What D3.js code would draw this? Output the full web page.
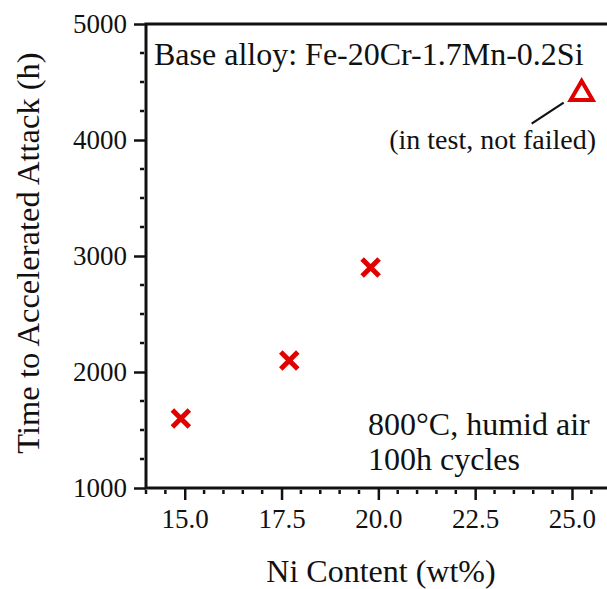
<!DOCTYPE html>
<html>
<head>
<meta charset="utf-8">
<script src="https://cdn.jsdelivr.net/npm/d3@7"></script>
<style>
  html, body { margin: 0; padding: 0; background: #fff; }
  svg { display: block; }
  text { font-family: "Liberation Serif", "Times New Roman", serif; fill: #111; }
</style>
</head>
<body>
<div id="chart"></div>
<script>
// Failed alloys: Ni content (wt%) vs. time to accelerated attack (h)
const niContent = [14.9, 17.7, 19.8];
const attackHours = [1600, 2100, 2900];
// Alloy still under test (not yet failed)
const inTestNi = [25.25];
const inTestHours = [4400];

const xMajorTicks = [15.0, 17.5, 20.0, 22.5, 25.0];
const yMajorTicks = [1000, 2000, 3000, 4000, 5000];

const W = 607, H = 589;
const serif = '"Liberation Serif", "Times New Roman", serif';
const svg = d3.select("#chart").append("svg").attr("width", W).attr("height", H);

const x = d3.scaleLinear().domain([14, 26]).range([146, 610.7]);
const y = d3.scaleLinear().domain([1000, 5000]).range([488, 24]);

const axisColor = "#111";
const red = "#e00000";

// Minor ticks every 0.5 wt% and every 250 h
const xMinor = d3.range(14, 26.01, 0.5).filter(v => !xMajorTicks.some(m => Math.abs(m - v) < 1e-6));
const yMinor = d3.range(1000, 5001, 250).filter(v => v % 1000 !== 0);

const gx = svg.append("g").attr("transform", `translate(0,${y(1000)})`);
gx.call(d3.axisBottom(x).tickValues(xMajorTicks).tickFormat(d3.format(".1f")).tickSize(12).tickPadding(9))
  .call(g => g.select(".domain").remove());
gx.selectAll(".tick line").attr("stroke", axisColor).attr("stroke-width", 2.5);
gx.selectAll(".tick text").attr("font-size", 27).attr("fill", "#111").style("font-family", serif);
gx.selectAll("line.minor").data(xMinor).enter().append("line")
  .attr("class", "minor")
  .attr("x1", d => x(d)).attr("x2", d => x(d))
  .attr("y1", 2).attr("y2", 6)
  .attr("stroke", axisColor).attr("stroke-width", 2.5);

const gy = svg.append("g").attr("transform", `translate(${x(14)},0)`);
gy.call(d3.axisLeft(y).tickValues(yMajorTicks).tickFormat(d3.format("d")).tickSize(12).tickPadding(7))
  .call(g => g.select(".domain").remove());
gy.selectAll(".tick line").attr("stroke", axisColor).attr("stroke-width", 2.5);
gy.selectAll(".tick text").attr("font-size", 27).attr("fill", "#111").style("font-family", serif);
gy.selectAll("line.minor").data(yMinor).enter().append("line")
  .attr("class", "minor")
  .attr("x1", -2).attr("x2", -6)
  .attr("y1", d => y(d)).attr("y2", d => y(d))
  .attr("stroke", axisColor).attr("stroke-width", 2.5);

// Frame: top, left and bottom edges
svg.append("path")
  .attr("d", `M${W},${y(5000)} H${x(14)} V${y(1000)} H${W}`)
  .attr("fill", "none").attr("stroke", axisColor).attr("stroke-width", 3);

// Failed-alloy markers (crosses)
const cross = d3.symbol().type(d3.symbolX).size(190);
svg.append("g").selectAll("path").data(niContent).enter().append("path")
  .attr("d", cross)
  .attr("transform", (d, i) => `translate(${x(d)},${y(attackHours[i])})`)
  .attr("fill", "none").attr("stroke", red).attr("stroke-width", 5);

// In-test marker (open triangle) with leader line
const tri = d3.symbol().type(d3.symbolTriangle).size(210);
svg.append("g").selectAll("path").data(inTestNi).enter().append("path")
  .attr("d", tri)
  .attr("transform", (d, i) => `translate(${x(d)},${y(inTestHours[i])})`)
  .attr("fill", "none").attr("stroke", red).attr("stroke-width", 4)
  .attr("stroke-linejoin", "miter");

svg.append("line")
  .attr("x1", x(inTestNi[0]) - 50).attr("y1", y(inTestHours[0]) + 30)
  .attr("x2", x(inTestNi[0]) - 18).attr("y2", y(inTestHours[0]) + 9)
  .attr("stroke", "#111").attr("stroke-width", 2.2);

svg.append("text").attr("x", 596).attr("y", 149).attr("text-anchor", "end")
  .attr("font-size", 28).text("(in test, not failed)");

svg.append("text").attr("x", 154).attr("y", 65)
  .attr("font-size", 32).text("Base alloy: Fe-20Cr-1.7Mn-0.2Si");

svg.append("text").attr("x", 368).attr("y", 435)
  .attr("font-size", 32).text("800°C, humid air");
svg.append("text").attr("x", 368).attr("y", 470)
  .attr("font-size", 32).text("100h cycles");

// Axis titles
svg.append("text").attr("x", 381).attr("y", 582).attr("text-anchor", "middle")
  .attr("font-size", 32).text("Ni Content (wt%)");
svg.append("text").attr("transform", "translate(38.5,253) rotate(-90)")
  .attr("text-anchor", "middle").attr("font-size", 32.5)
  .text("Time to Accelerated Attack (h)");
</script>
</body>
</html>
